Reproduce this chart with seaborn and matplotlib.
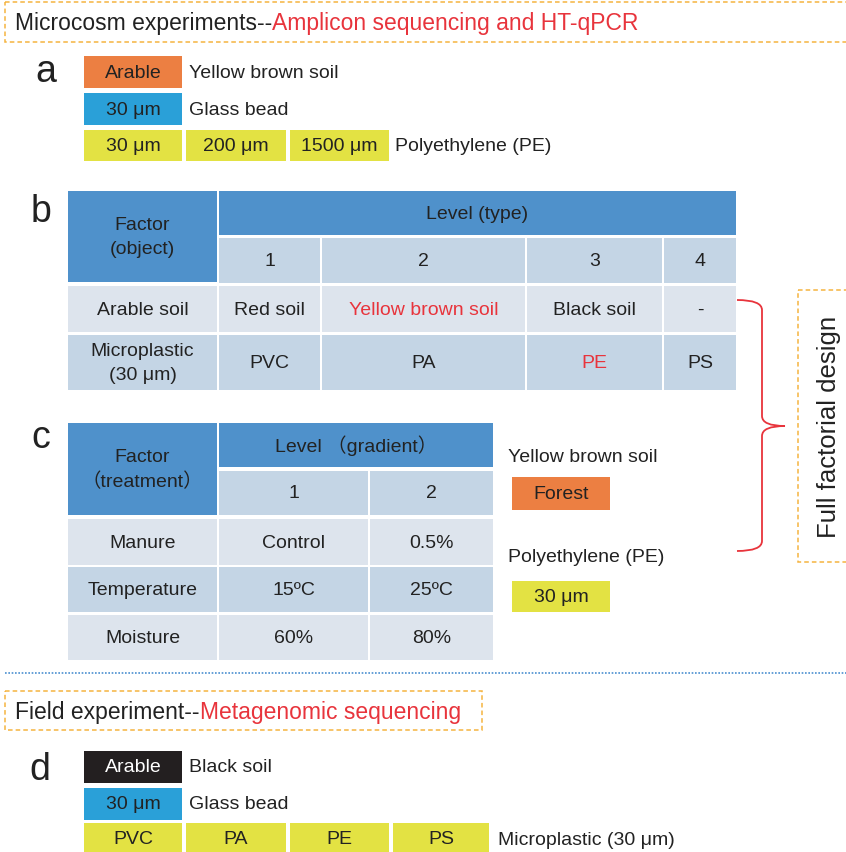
import seaborn as sns
import matplotlib.pyplot as plt
from matplotlib.patches import Rectangle, PathPatch
from matplotlib.path import Path

sns.set_style("white")
plt.rcParams['font.family'] = ['Liberation Sans', 'Noto Sans CJK SC', 'DejaVu Sans']

# ---- content ----
title_top = ["Microcosm experiments--", "Amplicon sequencing and HT-qPCR"]
title_field = ["Field experiment--", "Metagenomic sequencing"]

pe_sizes = ["30 μm", "200 μm", "1500 μm"]

levels_b = ["1", "2", "3", "4"]
soil_types = ["Red soil", "Yellow brown soil", "Black soil", "-"]
mp_types = ["PVC", "PA", "PE", "PS"]
soil_red = [False, True, False, False]
mp_red = [False, False, True, False]

levels_c = ["1", "2"]
treatments = ["Manure", "Temperature", "Moisture"]
level1 = ["Control", "15ºC", "60%"]
level2 = ["0.5%", "25ºC", "80%"]

field_plastics = ["PVC", "PA", "PE", "PS"]

# ---- colours ----
ORANGE = "#EC7F42"
BLUE = "#2AA0D8"
YELLOW = "#E3E243"
BLACK_BOX = "#231F20"
HEAD = "#4F91CB"
LIGHT = "#C4D5E5"
PALE = "#DDE4ED"
RED = "#E8343C"
DASH = "#F5B440"
TXT = "#222222"

fig = plt.figure(figsize=(8.46, 8.53), dpi=100)
ax = fig.add_axes([0, 0, 1, 1])
ax.set_xlim(0, 846)
ax.set_ylim(853, 0)
ax.axis("off")

FS = 14
TFS = 16.5
LFS = 27


def box(x0, x1, y0, y1, color, label="", tc=TXT, fs=FS, red=False):
    ax.add_patch(Rectangle((x0, y0), x1 - x0, y1 - y0, facecolor=color,
                           edgecolor="none"))
    if label:
        ax.text((x0 + x1) / 2, (y0 + y1) / 2, label, ha="center", va="center",
                fontsize=fs, color=RED if red else tc, linespacing=1.5)


def label(x, y, s, fs=FS, color=TXT, **kw):
    return ax.text(x, y, s, fontsize=fs, color=color, va="center", **kw)


def title(x, y, parts):
    t = label(x, y, parts[0], fs=TFS)
    ax.annotate(parts[1], xy=(1, 0.5), xycoords=t, va="center", ha="left",
                fontsize=TFS, color=RED)


def dashed(x0, x1, y0, y1):
    ax.add_patch(Rectangle((x0, y0), x1 - x0, y1 - y0, facecolor="none",
                           edgecolor=DASH, linestyle=(0, (3, 2)), lw=1.1))


# ---- top title ----
dashed(5, 850, 3, 43)
title(15, 23, title_top)

# ---- panel a ----
label(35, 72, "a", fs=LFS)
box(84, 182, 57, 89, ORANGE, "Arable")
label(189, 73, "Yellow brown soil")
box(84, 182, 94, 126, BLUE, "30 μm")
label(189, 110, "Glass bead")
xs_a = [(84, 182), (186, 286), (290, 389)]
for (x0, x1), s in zip(xs_a, pe_sizes):
    box(x0, x1, 131, 162, YELLOW, s)
label(395, 146, "Polyethylene (PE)")

# ---- panel b ----
label(31, 212, "b", fs=LFS)
cols_b = [(68, 217), (219, 320), (322, 525), (527, 662), (664, 736)]
box(68, 217, 192, 283, HEAD, "Factor\n(object)")
box(219, 736, 192, 236, HEAD, "Level (type)")
for (x0, x1), s in zip(cols_b[1:], levels_b):
    box(x0, x1, 239, 284, LIGHT, s)
box(68, 217, 287, 333, PALE, "Arable soil")
for (x0, x1), s, r in zip(cols_b[1:], soil_types, soil_red):
    box(x0, x1, 287, 333, PALE, s, red=r)
box(68, 217, 336, 391, LIGHT, "Microplastic\n(30 μm)")
for (x0, x1), s, r in zip(cols_b[1:], mp_types, mp_red):
    box(x0, x1, 336, 391, LIGHT, s, red=r)

# ---- bracket + full factorial ----
bx, tip = 762, 785
verts = [(737, 301), (bx, 301), (bx, 311), (bx, 417), (bx, 427), (tip, 427),
         (bx, 427), (bx, 437), (bx, 542), (bx, 552), (737, 552)]
codes = [Path.MOVETO, Path.CURVE3, Path.CURVE3, Path.LINETO, Path.CURVE3,
         Path.CURVE3, Path.CURVE3, Path.CURVE3, Path.LINETO, Path.CURVE3,
         Path.CURVE3]
ax.add_patch(PathPatch(Path(verts, codes), facecolor="none", edgecolor=RED,
                       lw=1.3))
dashed(798, 850, 291, 563)
ax.text(829, 427, "Full factorial design", rotation=90, ha="center",
        va="center", fontsize=18.5, color=TXT)

# ---- panel c ----
label(31, 438, "c", fs=LFS)
cols_c = [(68, 217), (219, 368), (370, 493)]
box(68, 217, 424, 516, HEAD, "Factor\n（treatment）")
box(219, 493, 424, 468, HEAD, "Level （gradient）")
for (x0, x1), s in zip(cols_c[1:], levels_c):
    box(x0, x1, 472, 516, LIGHT, s)
rows_c = [(520, 566, PALE), (568, 613, LIGHT), (616, 661, PALE)]
for (y0, y1, c), t, v1, v2 in zip(rows_c, treatments, level1, level2):
    box(68, 217, y0, y1, c, t)
    box(219, 368, y0, y1, c, v1)
    box(370, 493, y0, y1, c, v2)

label(508, 458, "Yellow brown soil")
box(512, 610, 478, 511, ORANGE, "Forest")
label(508, 557, "Polyethylene (PE)")
box(512, 610, 582, 613, YELLOW, "30 μm")

# ---- separator ----
ax.plot([5, 846], [674, 674], color="#4A8FD0", lw=1.2, linestyle=(0, (1, 1)))

# ---- field experiment ----
dashed(5, 482, 692, 731)
title(15, 712, title_field)

label(29, 770, "d", fs=LFS)
box(84, 182, 752, 784, BLACK_BOX, "Arable", tc="white")
label(189, 768, "Black soil")
box(84, 182, 789, 821, BLUE, "30 μm")
label(189, 805, "Glass bead")
xs_d = [(84, 182), (186, 286), (290, 389), (393, 489)]
for (x0, x1), s in zip(xs_d, field_plastics):
    box(x0, x1, 824, 856, YELLOW, s)
label(498, 841, "Microplastic (30 μm)")

fig.savefig("out.png", dpi=100)
